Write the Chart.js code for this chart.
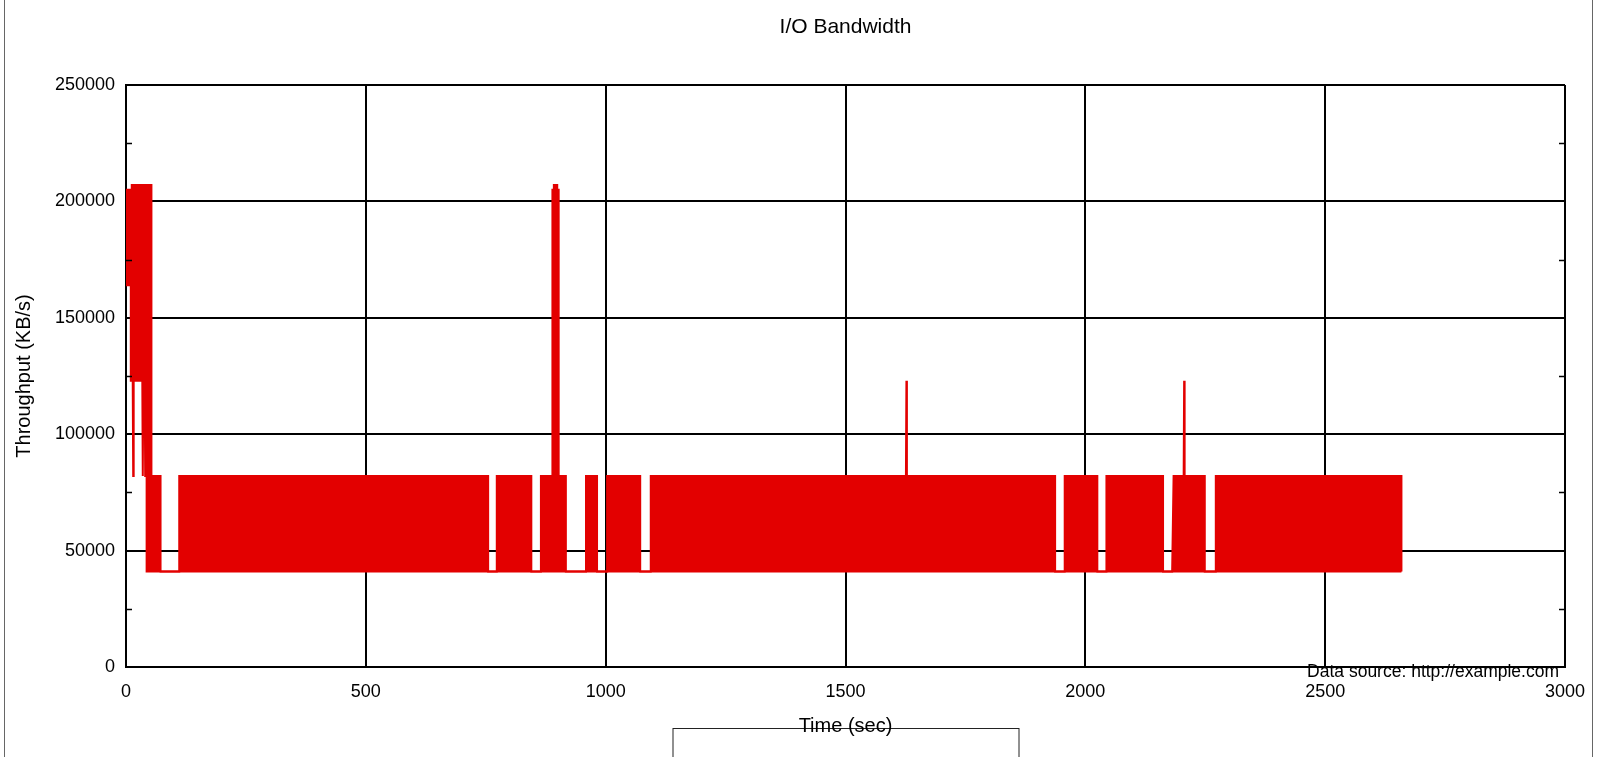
<!DOCTYPE html>
<html>
<head>
<meta charset="utf-8">
<title>I/O Bandwidth</title>
<script src="https://cdn.jsdelivr.net/npm/chart.js"></script>
<style>
  html, body { margin: 0; padding: 0; background: #fff; overflow: hidden; }
  canvas { display: block; }
</style>
</head>
<body>
<canvas id="myChart" width="1597" height="757"></canvas>
<script>
// envelope of the throughput trace (sec, KB/s): the trace swings between lowerKB and upperKB
const timeSec = [
    0, 10, 10, 12, 12, 14, 15, 16, 34, 35, 36, 39, 40, 41, 43, 43, 53, 53, 72, 72,
    111, 111, 755, 755, 773, 773, 845, 845, 865, 865, 889, 889, 892, 892, 899, 899, 902, 902, 917, 917,
    959, 959, 982, 982, 1003, 1003, 1072, 1072, 1094, 1094, 1626, 1627, 1628, 1937, 1937, 1957, 1957, 2025, 2025, 2044,
    2044, 2162, 2162, 2181, 2184, 2205, 2206, 2207, 2249, 2249, 2272, 2272, 2659, 2659
];
const upperKB = [
    205000, 205000, 205000, 205000, 207000, 207000, 207000, 207000, 207000, 207000, 207000, 207000, 207000, 207000, 207000, 207000, 207000, 82000, 82000, 41000,
    41000, 82000, 82000, 41000, 41000, 82000, 82000, 41000, 41000, 82000, 82000, 205000, 205000, 207000, 207000, 205000, 205000, 82000, 82000, 41000,
    41000, 82000, 82000, 41000, 41000, 82000, 82000, 41000, 41000, 82000, 82000, 123000, 82000, 82000, 41000, 41000, 82000, 82000, 41000, 41000,
    82000, 82000, 41000, 41000, 82000, 82000, 123000, 82000, 82000, 41000, 41000, 82000, 82000, 41000
];
const lowerKB = [
    164000, 164000, 123000, 123000, 123000, 123000, 82000, 123000, 123000, 82000, 123000, 123000, 82000, 123000, 123000, 41000, 41000, 41000, 41000, 41000,
    41000, 41000, 41000, 41000, 41000, 41000, 41000, 41000, 41000, 41000, 41000, 41000, 41000, 41000, 41000, 41000, 41000, 41000, 41000, 41000,
    41000, 41000, 41000, 41000, 41000, 41000, 41000, 41000, 41000, 41000, 41000, 41000, 41000, 41000, 41000, 41000, 41000, 41000, 41000, 41000,
    41000, 41000, 41000, 41000, 41000, 41000, 41000, 41000, 41000, 41000, 41000, 41000, 41000, 41000
];

const xTickValues = [0, 500, 1000, 1500, 2000, 2500, 3000];
const yTickValues = [0, 50000, 100000, 150000, 200000, 250000];
const yMinorTicks = [25000, 75000, 125000, 175000, 225000];

const chartTitle = 'I/O Bandwidth';
const xTitle = 'Time (sec)';
const yTitle = 'Throughput (KB/s)';
const sourceNote = 'Data source: http://example.com';

const lineRed = '#e30000';
const fontFamily = '"Liberation Sans", Arial, Helvetica, sans-serif';

let upperPoints = timeSec.map(function (t, i) { return { x: t, y: upperKB[i] }; });
let lowerPoints = timeSec.map(function (t, i) { return { x: t, y: lowerKB[i] }; });

const decor = {
    id: 'decor',
    beforeDraw: function (chart) {
        let ctx = chart.ctx;
        ctx.save();
        ctx.fillStyle = '#fff';
        ctx.fillRect(0, 0, chart.width, chart.height);
        ctx.restore();
    },
    afterDraw: function (chart) {
        let ctx = chart.ctx;
        let a = chart.chartArea;
        let y = chart.scales.y;
        let midX = (a.left + a.right) / 2;
        ctx.save();

        // short inner ticks between the labelled values
        ctx.strokeStyle = '#000';
        ctx.lineWidth = 1.5;
        yMinorTicks.forEach(function (v) {
            let py = Math.round(y.getPixelForValue(v)) + 0.5;
            ctx.beginPath();
            ctx.moveTo(a.left, py);
            ctx.lineTo(a.left + 6, py);
            ctx.moveTo(a.right - 6, py);
            ctx.lineTo(a.right, py);
            ctx.stroke();
        });

        // empty legend box under the axis
        ctx.lineWidth = 1;
        ctx.strokeStyle = '#222';
        ctx.fillStyle = '#fff';
        ctx.fillRect(midX - 172, a.bottom + 61, 346, 60);
        ctx.strokeRect(midX - 172.5, a.bottom + 61.5, 346, 60);

        ctx.fillStyle = '#000';
        ctx.textAlign = 'center';
        ctx.textBaseline = 'middle';
        ctx.font = '21px ' + fontFamily;
        ctx.fillText(chartTitle, midX, 27);

        ctx.font = '20px ' + fontFamily;
        ctx.fillText(xTitle, midX, a.bottom + 59);

        ctx.save();
        ctx.translate(24, (a.top + a.bottom) / 2);
        ctx.rotate(-Math.PI / 2);
        ctx.fillText(yTitle, 0, 0);
        ctx.restore();

        ctx.font = '17.5px ' + fontFamily;
        ctx.textAlign = 'right';
        ctx.fillText(sourceNote, a.right - 6, a.bottom + 5);

        // outer frame
        ctx.strokeStyle = '#666';
        ctx.lineWidth = 1;
        ctx.strokeRect(4.5, -10, 1588, chart.height + 20);
        ctx.restore();
    }
};

let ctx = document.getElementById('myChart').getContext('2d');
window.myChart = new Chart(ctx, {
    type: 'line',
    data: {
        datasets: [
            {
                label: 'upper',
                data: upperPoints,
                borderColor: lineRed,
                backgroundColor: lineRed,
                borderWidth: 2,
                pointRadius: 0,
                tension: 0,
                fill: '+1',
            },
            {
                label: 'lower',
                data: lowerPoints,
                borderColor: lineRed,
                backgroundColor: lineRed,
                borderWidth: 2,
                pointRadius: 0,
                tension: 0,
                fill: false,
            },
        ],
    },
    options: {
        responsive: false,
        animation: false,
        devicePixelRatio: 1,
        layout: {
            padding: { left: 0, right: 32, top: 85, bottom: 0 },
        },
        plugins: {
            legend: { display: false },
            title: { display: false },
            tooltip: { enabled: false },
        },
        scales: {
            x: {
                type: 'linear',
                min: 0,
                max: 3000,
                afterBuildTicks: function (scale) {
                    scale.ticks = xTickValues.map(function (v) { return { value: v }; });
                },
                afterFit: function (scale) {
                    scale.height = 90;
                    scale.paddingLeft = 0;
                    scale.paddingRight = 0;
                },
                grid: { color: '#000', lineWidth: 2, drawTicks: false },
                border: { display: true, color: '#000', width: 2 },
                ticks: {
                    color: '#000',
                    padding: 14,
                    maxRotation: 0,
                    font: { family: fontFamily, size: 18 },
                    callback: function (v) { return String(v); },
                },
            },
            y: {
                min: 0,
                max: 250000,
                afterBuildTicks: function (scale) {
                    scale.ticks = yTickValues.map(function (v) { return { value: v }; });
                },
                afterFit: function (scale) {
                    scale.width = 126;
                    scale.paddingTop = 0;
                    scale.paddingBottom = 0;
                },
                grid: { color: '#000', lineWidth: 2, drawTicks: false },
                border: { display: true, color: '#000', width: 2 },
                ticks: {
                    color: '#000',
                    padding: 11,
                    font: { family: fontFamily, size: 18 },
                    callback: function (v) { return String(v); },
                },
            },
        },
    },
    plugins: [decor],
});
</script>
</body>
</html>
